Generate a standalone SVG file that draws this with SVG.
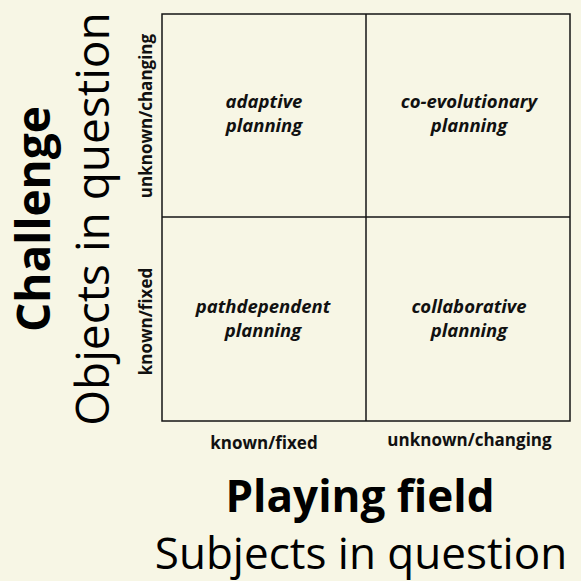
<svg xmlns="http://www.w3.org/2000/svg" width="581" height="581" viewBox="0 0 581 581">
  <style>
    .grid { fill: none; stroke: #141414; stroke-width: 1.5; }
    .cell { font-family: "Open Sans", "Noto Sans", sans-serif; font-weight: 700; font-style: italic; font-size: 18.5px; fill: #111; text-anchor: middle; }
    .axis { font-family: "Open Sans", "Noto Sans", sans-serif; font-weight: 700; font-size: 17px; fill: #111; text-anchor: middle; }
    .title { font-family: "Open Sans", "Noto Sans", sans-serif; font-weight: 700; font-size: 44px; fill: #000; text-anchor: middle; }
    .sub { font-family: "Open Sans", "Noto Sans", sans-serif; font-weight: 400; font-size: 44px; fill: #000; text-anchor: middle; }
    .big { font-size: 46px; }
  </style>
  <rect width="581" height="581" fill="#f7f6e5"/>

  <!-- 2x2 matrix frame -->
  <g id="matrix">
    <rect class="grid" x="162" y="14" width="408" height="407"/>
    <line class="grid" x1="366" y1="14" x2="366" y2="421"/>
    <line class="grid" x1="162" y1="217" x2="570" y2="217"/>
  </g>

  <!-- quadrants -->
  <g id="adaptive">
    <text class="cell" x="264" y="108">adaptive</text>
    <text class="cell" x="264" y="132">planning</text>
  </g>
  <g id="co-evolutionary">
    <text class="cell" x="469" y="108">co-evolutionary</text>
    <text class="cell" x="469" y="132">planning</text>
  </g>
  <g id="pathdependent">
    <text class="cell" x="263" y="313">pathdependent</text>
    <text class="cell" x="263" y="337">planning</text>
  </g>
  <g id="collaborative">
    <text class="cell" x="469" y="313">collaborative</text>
    <text class="cell" x="469" y="337">planning</text>
  </g>

  <!-- horizontal axis -->
  <g id="x-axis">
    <text class="axis" x="264" y="449">known/fixed</text>
    <text class="axis" x="469.5" y="446">unknown/changing</text>
    <text class="title" x="360" y="512">Playing field</text>
    <text class="sub" x="361" y="569">Subjects in question</text>
  </g>

  <!-- vertical axis -->
  <g id="y-axis">
    <text class="axis" transform="translate(152,116) rotate(-90)">unknown/changing</text>
    <text class="axis" transform="translate(152,321.5) rotate(-90)">known/fixed</text>
    <text class="title big" transform="translate(50,219) rotate(-90)">Challenge</text>
    <text class="sub big" transform="translate(109,219) rotate(-90)">Objects in question</text>
  </g>
</svg>
